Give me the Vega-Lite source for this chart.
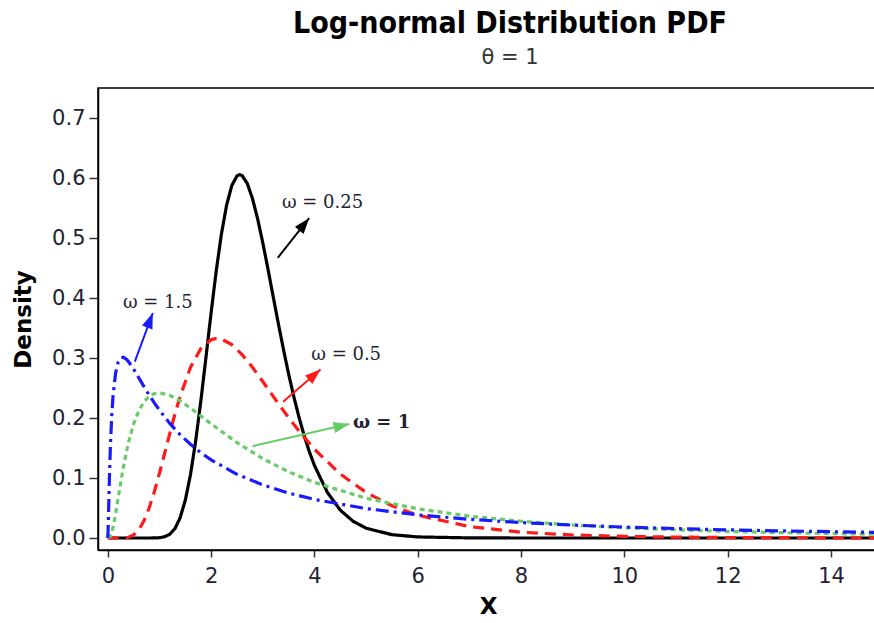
{
  "$schema": "https://vega.github.io/schema/vega-lite/v6.json",
  "width": 780,
  "height": 462,
  "autosize": {"type": "none"},
  "padding": {"left": 98, "top": 88, "right": 0, "bottom": 73},
  "background": "white",
  "config": {
    "view": {"stroke": "#000", "strokeWidth": 1.5},
    "axis": {
      "labelFont": "DejaVu Sans", "labelFontSize": 21, "labelColor": "#222233",
      "titleFont": "DejaVu Sans", "titleFontWeight": "bold", "titleFontSize": 23, "titleColor": "#000",
      "domainColor": "#000", "domainWidth": 1.5, "tickColor": "#333", "tickWidth": 1.5, "grid": false
    }
  },
  "title": {
    "text": "Log-normal Distribution PDF",
    "subtitle": "θ = 1",
    "anchor": "middle",
    "frame": "group",
    "dx": 22,
    "font": "DejaVu Sans Condensed, DejaVu Sans",
    "fontWeight": "bold",
    "fontSize": 30,
    "color": "#000",
    "subtitleFont": "DejaVu Sans",
    "subtitleFontSize": 21,
    "subtitleColor": "#333",
    "subtitlePadding": 8,
    "offset": 20
  },
  "datasets": {
    "curves": [
      {"w": "0.25", "x": 0, "y": 0}, {"w": "0.25", "x": 0.5, "y": 0}, {"w": "0.25", "x": 0.8, "y": 0},
      {"w": "0.25", "x": 0.9, "y": 0.0001}, {"w": "0.25", "x": 1.0, "y": 0.0005}, {"w": "0.25", "x": 1.1, "y": 0.0021},
      {"w": "0.25", "x": 1.2, "y": 0.0063}, {"w": "0.25", "x": 1.3, "y": 0.0158}, {"w": "0.25", "x": 1.4, "y": 0.0337},
      {"w": "0.25", "x": 1.5, "y": 0.0629}, {"w": "0.25", "x": 1.6, "y": 0.1054}, {"w": "0.25", "x": 1.7, "y": 0.1611},
      {"w": "0.25", "x": 1.8, "y": 0.2277}, {"w": "0.25", "x": 1.9, "y": 0.3011}, {"w": "0.25", "x": 2.0, "y": 0.3756},
      {"w": "0.25", "x": 2.1, "y": 0.4460}, {"w": "0.25", "x": 2.2, "y": 0.5071}, {"w": "0.25", "x": 2.3, "y": 0.5549},
      {"w": "0.25", "x": 2.4, "y": 0.5874}, {"w": "0.25", "x": 2.5, "y": 0.6035}, {"w": "0.25", "x": 2.55, "y": 0.6056},
      {"w": "0.25", "x": 2.6, "y": 0.6041}, {"w": "0.25", "x": 2.7, "y": 0.5908}, {"w": "0.25", "x": 2.8, "y": 0.5659},
      {"w": "0.25", "x": 2.9, "y": 0.5321}, {"w": "0.25", "x": 3.0, "y": 0.4921}, {"w": "0.25", "x": 3.1, "y": 0.4484},
      {"w": "0.25", "x": 3.2, "y": 0.4030}, {"w": "0.25", "x": 3.3, "y": 0.3579}, {"w": "0.25", "x": 3.4, "y": 0.3144},
      {"w": "0.25", "x": 3.5, "y": 0.2734}, {"w": "0.25", "x": 3.6, "y": 0.2358}, {"w": "0.25", "x": 3.7, "y": 0.2016},
      {"w": "0.25", "x": 3.8, "y": 0.1711}, {"w": "0.25", "x": 3.9, "y": 0.1442}, {"w": "0.25", "x": 4.0, "y": 0.1209},
      {"w": "0.25", "x": 4.25, "y": 0.0760}, {"w": "0.25", "x": 4.5, "y": 0.0464}, {"w": "0.25", "x": 4.75, "y": 0.0278},
      {"w": "0.25", "x": 5.0, "y": 0.0164}, {"w": "0.25", "x": 5.5, "y": 0.0055}, {"w": "0.25", "x": 6.0, "y": 0.0018},
      {"w": "0.25", "x": 7.0, "y": 0.0002}, {"w": "0.25", "x": 8.0, "y": 0}, {"w": "0.25", "x": 15.0, "y": 0},

      {"w": "0.5", "x": 0, "y": 0}, {"w": "0.5", "x": 0.2, "y": 0}, {"w": "0.5", "x": 0.3, "y": 0.0002},
      {"w": "0.5", "x": 0.4, "y": 0.0013}, {"w": "0.5", "x": 0.5, "y": 0.0052}, {"w": "0.5", "x": 0.6, "y": 0.0138},
      {"w": "0.5", "x": 0.7, "y": 0.0287}, {"w": "0.5", "x": 0.8, "y": 0.0500}, {"w": "0.5", "x": 0.9, "y": 0.0771},
      {"w": "0.5", "x": 1.0, "y": 0.1080}, {"w": "0.5", "x": 1.1, "y": 0.1411}, {"w": "0.5", "x": 1.2, "y": 0.1745},
      {"w": "0.5", "x": 1.3, "y": 0.2067}, {"w": "0.5", "x": 1.4, "y": 0.2359}, {"w": "0.5", "x": 1.6, "y": 0.2843},
      {"w": "0.5", "x": 1.8, "y": 0.3156}, {"w": "0.5", "x": 2.0, "y": 0.3304}, {"w": "0.5", "x": 2.1, "y": 0.3326},
      {"w": "0.5", "x": 2.2, "y": 0.3316}, {"w": "0.5", "x": 2.4, "y": 0.3223}, {"w": "0.5", "x": 2.6, "y": 0.3056},
      {"w": "0.5", "x": 2.8, "y": 0.2845}, {"w": "0.5", "x": 3.0, "y": 0.2608}, {"w": "0.5", "x": 3.25, "y": 0.2303},
      {"w": "0.5", "x": 3.5, "y": 0.2006}, {"w": "0.5", "x": 3.75, "y": 0.1730}, {"w": "0.5", "x": 4.0, "y": 0.1480},
      {"w": "0.5", "x": 4.5, "y": 0.1067}, {"w": "0.5", "x": 5.0, "y": 0.0759}, {"w": "0.5", "x": 5.5, "y": 0.0537},
      {"w": "0.5", "x": 6.0, "y": 0.0380}, {"w": "0.5", "x": 7.0, "y": 0.0190}, {"w": "0.5", "x": 8.0, "y": 0.0097},
      {"w": "0.5", "x": 9.0, "y": 0.0050}, {"w": "0.5", "x": 10.0, "y": 0.0027}, {"w": "0.5", "x": 11.0, "y": 0.0015},
      {"w": "0.5", "x": 12.0, "y": 0.0008}, {"w": "0.5", "x": 13.0, "y": 0.0005}, {"w": "0.5", "x": 14.0, "y": 0.0003},
      {"w": "0.5", "x": 15.0, "y": 0.0002},

      {"w": "1", "x": 0, "y": 0}, {"w": "1", "x": 0.05, "y": 0.0027}, {"w": "1", "x": 0.1, "y": 0.0170},
      {"w": "1", "x": 0.15, "y": 0.0400}, {"w": "1", "x": 0.2, "y": 0.0663}, {"w": "1", "x": 0.25, "y": 0.0926},
      {"w": "1", "x": 0.3, "y": 0.1172}, {"w": "1", "x": 0.35, "y": 0.1395}, {"w": "1", "x": 0.4, "y": 0.1591},
      {"w": "1", "x": 0.5, "y": 0.1904}, {"w": "1", "x": 0.6, "y": 0.2123}, {"w": "1", "x": 0.7, "y": 0.2269},
      {"w": "1", "x": 0.8, "y": 0.2360}, {"w": "1", "x": 0.9, "y": 0.2407}, {"w": "1", "x": 1.0, "y": 0.2420},
      {"w": "1", "x": 1.2, "y": 0.2379}, {"w": "1", "x": 1.4, "y": 0.2286}, {"w": "1", "x": 1.6, "y": 0.2166},
      {"w": "1", "x": 1.8, "y": 0.2036}, {"w": "1", "x": 2.0, "y": 0.1903}, {"w": "1", "x": 2.5, "y": 0.1590},
      {"w": "1", "x": 3.0, "y": 0.1323}, {"w": "1", "x": 3.5, "y": 0.1104}, {"w": "1", "x": 4.0, "y": 0.0926},
      {"w": "1", "x": 5.0, "y": 0.0663}, {"w": "1", "x": 6.0, "y": 0.0486}, {"w": "1", "x": 7.0, "y": 0.0364},
      {"w": "1", "x": 8.0, "y": 0.0279}, {"w": "1", "x": 9.0, "y": 0.0217}, {"w": "1", "x": 10.0, "y": 0.0171},
      {"w": "1", "x": 11.0, "y": 0.0137}, {"w": "1", "x": 12.0, "y": 0.0110}, {"w": "1", "x": 13.0, "y": 0.0090},
      {"w": "1", "x": 14.0, "y": 0.0074}, {"w": "1", "x": 15.0, "y": 0.0062},

      {"w": "1.5", "x": 0, "y": 0}, {"w": "1.5", "x": 0.01, "y": 0.0247}, {"w": "1.5", "x": 0.02, "y": 0.0624},
      {"w": "1.5", "x": 0.03, "y": 0.0972}, {"w": "1.5", "x": 0.05, "y": 0.1531}, {"w": "1.5", "x": 0.075, "y": 0.2021},
      {"w": "1.5", "x": 0.1, "y": 0.2357}, {"w": "1.5", "x": 0.15, "y": 0.2747}, {"w": "1.5", "x": 0.2, "y": 0.2930},
      {"w": "1.5", "x": 0.25, "y": 0.3002}, {"w": "1.5", "x": 0.3, "y": 0.3012}, {"w": "1.5", "x": 0.35, "y": 0.2987},
      {"w": "1.5", "x": 0.4, "y": 0.2941}, {"w": "1.5", "x": 0.5, "y": 0.2814}, {"w": "1.5", "x": 0.6, "y": 0.2669},
      {"w": "1.5", "x": 0.7, "y": 0.2524}, {"w": "1.5", "x": 0.8, "y": 0.2384}, {"w": "1.5", "x": 0.9, "y": 0.2253},
      {"w": "1.5", "x": 1.0, "y": 0.2130}, {"w": "1.5", "x": 1.2, "y": 0.1910}, {"w": "1.5", "x": 1.4, "y": 0.1722},
      {"w": "1.5", "x": 1.6, "y": 0.1562}, {"w": "1.5", "x": 1.8, "y": 0.1423}, {"w": "1.5", "x": 2.0, "y": 0.1302},
      {"w": "1.5", "x": 2.5, "y": 0.1062}, {"w": "1.5", "x": 3.0, "y": 0.0885}, {"w": "1.5", "x": 3.5, "y": 0.0749},
      {"w": "1.5", "x": 4.0, "y": 0.0643}, {"w": "1.5", "x": 5.0, "y": 0.0490}, {"w": "1.5", "x": 6.0, "y": 0.0386},
      {"w": "1.5", "x": 7.0, "y": 0.0311}, {"w": "1.5", "x": 8.0, "y": 0.0257}, {"w": "1.5", "x": 9.0, "y": 0.0215},
      {"w": "1.5", "x": 10.0, "y": 0.0182}, {"w": "1.5", "x": 11.0, "y": 0.0157}, {"w": "1.5", "x": 12.0, "y": 0.0136},
      {"w": "1.5", "x": 13.0, "y": 0.0119}, {"w": "1.5", "x": 14.0, "y": 0.0105}, {"w": "1.5", "x": 15.0, "y": 0.0093}
    ],
    "arrows": [
      {"w": "0.25", "x": 3.29, "y": 0.467, "x2": 3.897, "y2": 0.533},
      {"w": "0.5", "x": 3.394, "y": 0.227, "x2": 4.118, "y2": 0.281},
      {"w": "1", "x": 2.80, "y": 0.153, "x2": 4.672, "y2": 0.190},
      {"w": "1.5", "x": 0.523, "y": 0.294, "x2": 0.871, "y2": 0.375}
    ],
    "labels": [
      {"w": "0.25", "x": 4.157, "y": 0.558, "label": "ω = 0.25"},
      {"w": "0.5", "x": 4.614, "y": 0.305, "label": "ω = 0.5"},
      {"w": "1.5", "x": 0.968, "y": 0.392, "label": "ω = 1.5"}
    ],
    "boldlabels": [
      {"w": "1", "x": 5.30, "y": 0.192, "label": "ω = 1"}
    ]
  },
  "layer": [
    {
      "data": {"name": "curves"},
      "mark": {"type": "line", "clip": true, "strokeWidth": 3.2},
      "encoding": {
        "x": {
          "field": "x", "type": "quantitative",
          "scale": {"domain": [-0.19, 14.91], "nice": false, "zero": false},
          "axis": {"values": [0, 2, 4, 6, 8, 10, 12, 14], "title": "X", "tickSize": 7, "labelPadding": 8, "titlePadding": 9}
        },
        "y": {
          "field": "y", "type": "quantitative",
          "scale": {"domain": [-0.02, 0.75], "nice": false, "zero": false},
          "axis": {"values": [0, 0.1, 0.2, 0.3, 0.4, 0.5, 0.6, 0.7], "format": ".1f", "title": "Density", "tickSize": 9, "labelPadding": 4, "titlePadding": 16}
        },
        "color": {
          "field": "w", "type": "nominal",
          "scale": {"domain": ["0.25", "0.5", "1", "1.5"], "range": ["#000000", "#ff1a1a", "#66cc66", "#1a1aff"]},
          "legend": null
        },
        "strokeDash": {
          "field": "w", "type": "nominal",
          "scale": {"domain": ["0.25", "0.5", "1", "1.5"], "range": [[1, 0], [11, 7], [5, 4], [13, 5, 3, 5]]},
          "legend": null
        }
      }
    },
    {
      "data": {"name": "arrows"},
      "mark": {"type": "rule", "strokeWidth": 2},
      "encoding": {
        "x": {"field": "x", "type": "quantitative"},
        "y": {"field": "y", "type": "quantitative"},
        "x2": {"field": "x2"},
        "y2": {"field": "y2"},
        "color": {"field": "w", "type": "nominal", "legend": null}
      }
    },
    {
      "data": {"name": "arrows"},
      "transform": [{"filter": "datum.w == '0.25'"}],
      "mark": {"type": "point", "shape": "M0,0L-0.5,1.4L0.5,1.4Z", "filled": true, "opacity": 1, "size": 500, "angle": 39},
      "encoding": {
        "x": {"field": "x2", "type": "quantitative"},
        "y": {"field": "y2", "type": "quantitative"},
        "color": {"field": "w", "type": "nominal", "legend": null}
      }
    },
    {
      "data": {"name": "arrows"},
      "transform": [{"filter": "datum.w == '0.5'"}],
      "mark": {"type": "point", "shape": "M0,0L-0.5,1.4L0.5,1.4Z", "filled": true, "opacity": 1, "size": 500, "angle": 49},
      "encoding": {
        "x": {"field": "x2", "type": "quantitative"},
        "y": {"field": "y2", "type": "quantitative"},
        "color": {"field": "w", "type": "nominal", "legend": null}
      }
    },
    {
      "data": {"name": "arrows"},
      "transform": [{"filter": "datum.w == '1'"}],
      "mark": {"type": "point", "shape": "M0,0L-0.5,1.4L0.5,1.4Z", "filled": true, "opacity": 1, "size": 500, "angle": 77},
      "encoding": {
        "x": {"field": "x2", "type": "quantitative"},
        "y": {"field": "y2", "type": "quantitative"},
        "color": {"field": "w", "type": "nominal", "legend": null}
      }
    },
    {
      "data": {"name": "arrows"},
      "transform": [{"filter": "datum.w == '1.5'"}],
      "mark": {"type": "point", "shape": "M0,0L-0.5,1.4L0.5,1.4Z", "filled": true, "opacity": 1, "size": 500, "angle": 21},
      "encoding": {
        "x": {"field": "x2", "type": "quantitative"},
        "y": {"field": "y2", "type": "quantitative"},
        "color": {"field": "w", "type": "nominal", "legend": null}
      }
    },
    {
      "data": {"name": "labels"},
      "mark": {"type": "text", "font": "DejaVu Serif", "fontSize": 18, "color": "#222233", "align": "center", "baseline": "middle"},
      "encoding": {
        "x": {"field": "x", "type": "quantitative"},
        "y": {"field": "y", "type": "quantitative"},
        "text": {"field": "label"}
      }
    },
    {
      "data": {"name": "boldlabels"},
      "mark": {"type": "text", "font": "DejaVu Serif", "fontSize": 18, "fontWeight": "bold", "color": "#222233", "align": "center", "baseline": "middle"},
      "encoding": {
        "x": {"field": "x", "type": "quantitative"},
        "y": {"field": "y", "type": "quantitative"},
        "text": {"field": "label"}
      }
    }
  ]
}
